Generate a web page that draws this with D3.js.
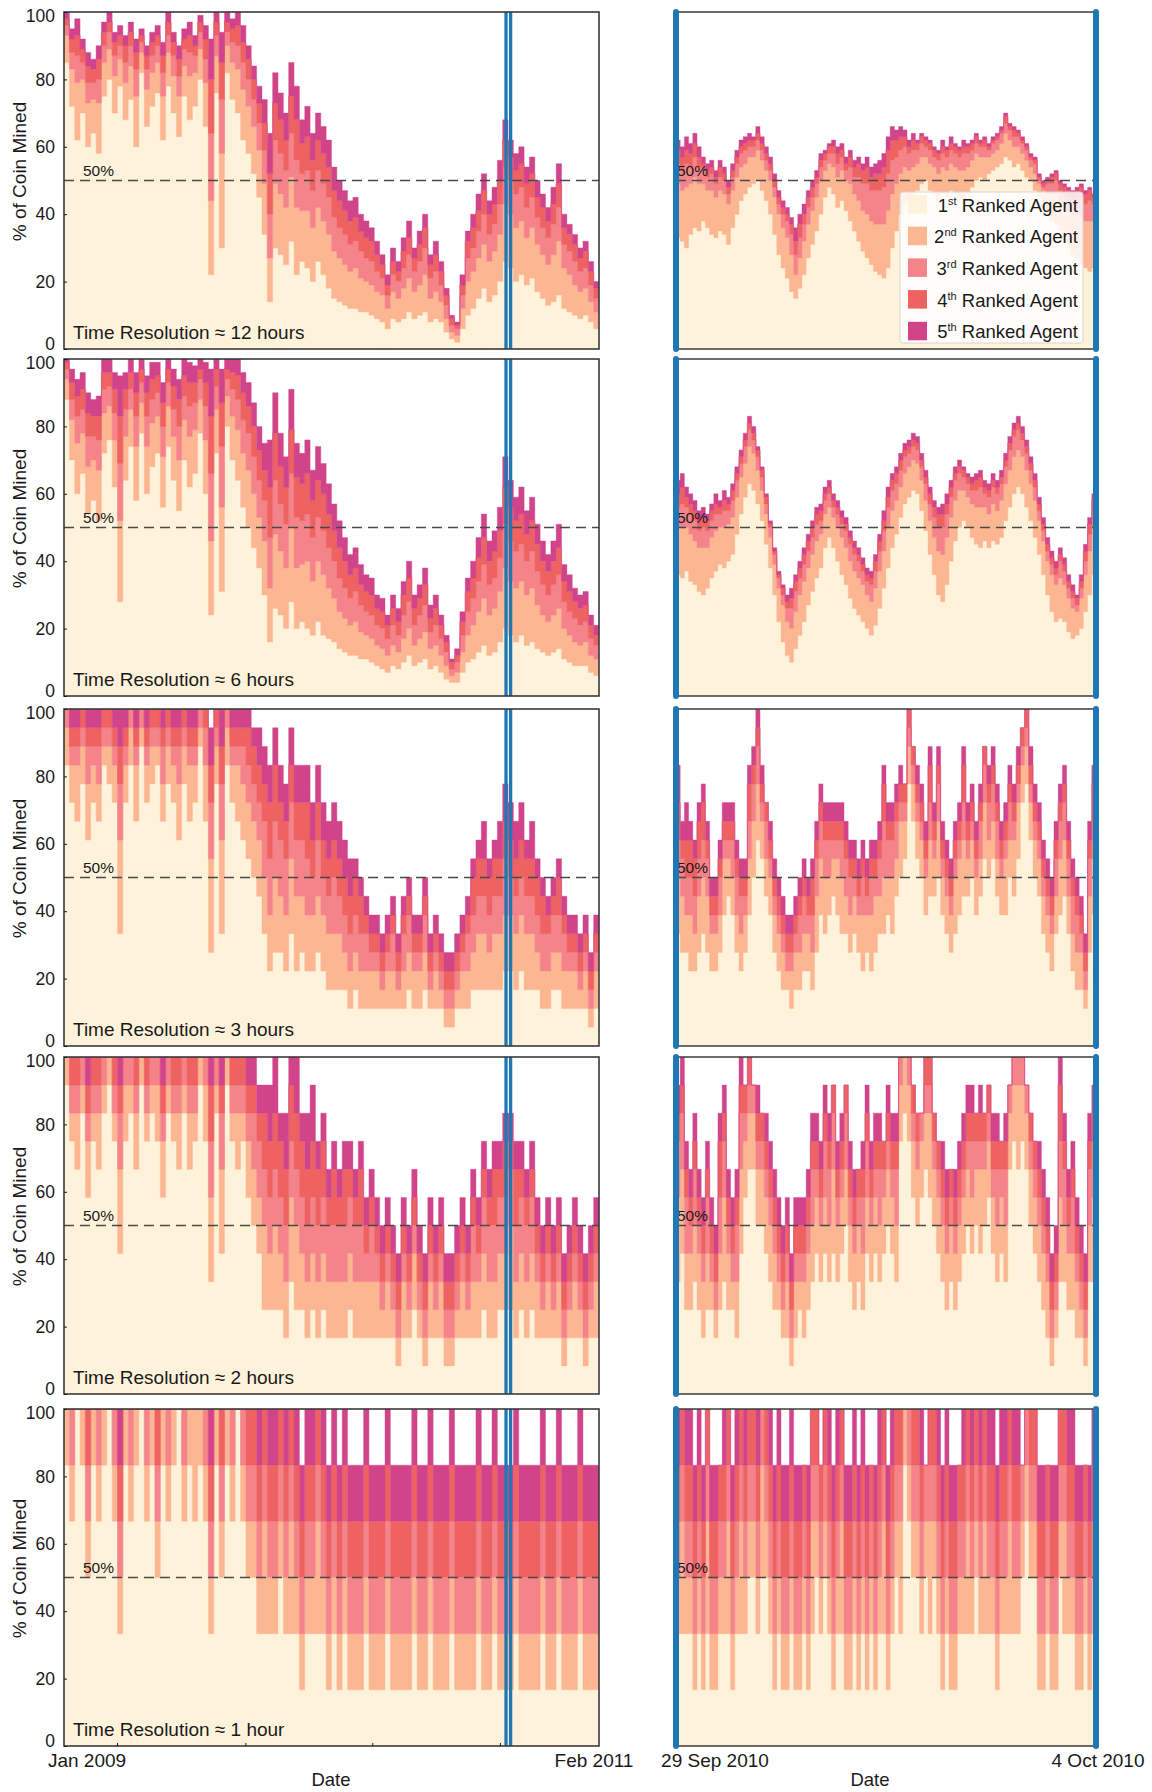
<!DOCTYPE html>
<html>
<head>
<meta charset="utf-8">
<title>Share of coin mined by the top five agents</title>
<script src="https://cdn.jsdelivr.net/npm/d3@7"></script>
<style>
  html, body { margin: 0; background: #fff; }
  text { font-family: "Liberation Sans", Arial, Helvetica, sans-serif; fill: #1a1a1a; }
</style>
</head>
<body>
<svg id="chart" width="1152" height="1792"></svg>
<script>
// ---------------------------------------------------------------------------
// Series: each entry is [1st, 2nd, 3rd, 4th, 5th ranked agent] for one
// sliding time window. The 12 h and 6 h rows are given in percent; the
// 3 h, 2 h and 1 h rows are given as block counts out of the window size.
// ---------------------------------------------------------------------------
const rankNumbers = ["1", "2", "3", "4", "5"];
const rankSuffixes = ["st", "nd", "rd", "th", "th"];
const rankColors = ["#FEF3DA", "#FCB792", "#F5838A", "#EE6262", "#D1448A"];
const resolutionLabels = ["12 hours", "6 hours", "3 hours", "2 hours", "1 hour"];
const windowSize = [100, 100, 18, 12, 6];
const yTicks = [0, 20, 40, 60, 80, 100];
const overviewDomain = ["2009-01-03", "2011-02-09"];
const detailDomain = ["2010-09-29", "2010-10-04"];
const overviewTicks = ["2009-03-20", "2009-09-20", "2010-03-21", "2010-09-20"];
const overviewEndLabels = ["Jan 2009", "Feb 2011"];
const detailEndLabels = ["29 Sep 2010", "4 Oct 2010"];

// Jan 2009 – Feb 2011, 12 hour windows (percent)
const overview12h = [
[85,8,3,2,2],[72,11,5,4,3],[62,17,8,6,5],[70,10,5,4,3],[60,13,6,5,4],[64,10,5,4,3],[58,15,7,6,4],[75,10,5,4,3],[80,9,5,3,3],[70,11,6,4,3],
[78,8,4,3,3],[68,11,6,5,3],[74,10,6,4,3],[60,15,8,5,4],[82,6,3,2,2],[66,11,6,4,3],[72,10,5,4,3],[76,9,5,3,3],[62,13,7,5,4],[78,10,5,4,3],
[70,11,6,4,3],[63,12,6,5,4],[75,9,5,3,3],[68,13,7,5,4],[72,10,5,3,3],[80,9,5,3,2],[66,13,7,6,4],[22,22,20,16,12],[76,11,6,4,3],[30,28,16,11,9],
[82,8,4,3,3],[74,11,6,4,3],[70,13,7,6,4],[62,15,8,6,5],[58,14,8,6,4],[52,14,8,6,4],[45,14,8,6,5],[34,15,10,8,7],[14,13,13,12,12],[30,19,13,11,9],
[28,18,12,10,8],[25,17,11,9,8],[32,19,13,11,10],[22,20,14,12,10],[26,15,11,9,7],[24,17,12,10,9],[20,16,11,9,8],[26,16,11,9,8],[22,16,11,9,8],[18,16,11,9,8],
[15,14,10,8,7],[14,13,9,8,6],[13,12,9,7,6],[12,11,8,7,6],[12,12,8,7,6],[11,10,8,6,5],[11,9,7,6,5],[10,9,7,6,4],[9,8,6,5,4],[8,8,5,4,3],
[6,6,4,3,3],[9,8,5,4,4],[8,7,5,3,3],[9,9,6,5,4],[11,10,7,5,5],[9,8,6,4,3],[10,9,7,5,4],[11,11,8,6,4],[8,7,6,4,3],[9,8,6,5,4],
[8,6,5,4,3],[5,4,4,3,2],[3,2,2,2,1],[2,2,2,1,1],[6,6,4,3,3],[10,10,7,5,3],[12,11,7,6,4],[15,12,8,6,5],[18,13,9,7,5],[14,12,8,6,4],
[16,13,8,6,5],[20,14,9,7,6],[26,17,11,8,6],[24,16,10,7,5],[20,16,10,7,5],[22,16,10,7,5],[19,14,9,7,5],[21,15,9,7,5],[17,14,8,6,5],[15,13,8,6,4],
[13,12,8,5,4],[14,14,9,6,5],[16,16,10,7,6],[12,12,7,5,4],[11,11,7,5,3],[10,9,7,5,3],[9,8,6,4,3],[10,8,6,5,3],[8,6,5,4,3],[6,5,4,3,2]
];

// Jan 2009 – Feb 2011, 6 hour windows (percent)
const overview6h = [
[88,6,3,2,1],[70,12,6,5,4],[60,15,8,6,5],[66,12,7,6,5],[54,14,9,7,6],[58,12,7,6,5],[52,15,9,7,6],[72,12,7,5,4],[76,10,6,4,4],[62,14,8,7,5],
[28,24,17,14,12],[64,13,8,6,5],[74,11,6,5,4],[58,16,9,7,6],[78,9,6,4,3],[60,14,9,7,5],[68,13,7,6,5],[72,11,7,5,4],[56,15,9,7,6],[74,12,7,4,3],
[64,13,8,7,5],[55,15,10,8,6],[70,12,7,6,5],[62,15,9,7,6],[66,13,8,6,5],[78,10,6,3,3],[60,16,10,7,6],[24,22,20,17,14],[72,13,7,5,3],[31,25,18,13,10],
[80,9,5,3,3],[70,13,8,5,4],[64,15,9,7,5],[56,16,10,8,6],[50,17,11,8,7],[44,16,11,9,7],[38,15,11,9,7],[30,16,12,9,8],[16,16,15,15,14],[26,22,16,14,12],
[24,19,14,11,10],[20,18,13,11,9],[28,22,16,13,12],[20,18,15,12,10],[22,17,13,11,9],[20,20,14,12,10],[18,16,13,11,9],[22,18,13,11,10],[18,18,13,11,9],[17,15,12,10,9],
[16,13,11,9,8],[14,11,10,9,8],[13,10,9,8,7],[12,9,8,7,6],[12,10,9,7,6],[11,8,8,6,6],[11,7,7,6,5],[10,7,7,6,5],[9,6,6,5,4],[8,6,6,5,4],
[7,5,5,4,3],[9,6,6,5,4],[8,5,5,4,4],[10,7,7,6,4],[12,8,8,7,5],[9,6,6,5,4],[10,7,7,5,4],[11,8,8,6,5],[8,6,5,4,4],[9,6,6,5,4],
[7,5,5,4,3],[5,4,4,3,2],[4,2,2,2,1],[4,3,3,2,2],[7,6,5,4,3],[10,8,7,6,4],[11,10,8,6,5],[13,12,9,7,6],[15,14,10,8,7],[12,12,9,7,6],
[13,13,9,8,6],[16,15,10,8,7],[20,18,13,11,9],[18,16,12,10,8],[16,16,11,9,7],[18,16,11,9,8],[15,15,10,8,7],[16,16,11,9,7],[14,13,10,8,6],[13,11,9,7,6],
[12,10,8,7,5],[13,11,9,7,6],[14,12,10,8,7],[11,9,8,6,5],[10,8,7,6,5],[9,7,7,5,4],[9,6,6,5,4],[9,7,6,5,4],[7,5,5,4,3],[6,5,4,3,3]
];

// Jan 2009 – Feb 2011, 3 hour windows (blocks out of 18)
const overview3h = [
[15,2,1,0,0],[13,2,1,1,1],[12,3,1,1,1],[14,2,1,1,0],[11,3,2,1,1],[13,2,1,1,1],[12,2,2,1,1],[15,1,1,1,0],[14,2,1,1,0],[13,2,1,1,1],
[6,5,3,2,2],[13,2,1,1,1],[15,2,1,0,0],[12,3,1,1,1],[16,1,1,0,0],[13,2,1,1,1],[14,2,1,1,0],[15,1,1,1,0],[12,2,2,1,1],[14,2,1,1,0],
[13,2,1,1,1],[11,3,2,1,1],[14,2,1,1,0],[12,3,1,1,1],[13,2,1,1,1],[16,1,1,0,0],[12,3,2,1,0],[5,5,3,2,2],[14,2,1,1,0],[6,5,3,2,2],
[15,2,1,0,0],[13,2,1,1,1],[12,3,1,1,1],[11,3,2,1,1],[10,3,2,2,1],[9,3,2,2,1],[8,3,2,2,2],[6,3,3,2,2],[4,3,3,3,2],[5,4,3,3,2],
[5,3,3,2,2],[4,3,3,2,2],[6,4,3,2,2],[4,4,3,2,2],[5,3,3,2,2],[4,3,3,3,2],[4,3,2,2,2],[5,3,3,2,2],[4,3,2,2,2],[3,3,2,2,2],
[3,3,3,2,2],[3,3,2,2,2],[3,2,2,2,2],[2,2,2,2,2],[3,2,2,2,1],[2,2,2,2,1],[2,2,2,1,1],[2,2,1,1,1],[2,2,1,1,1],[2,1,1,1,1],
[2,2,1,1,1],[2,2,2,1,1],[2,1,1,1,1],[2,2,2,1,1],[3,2,2,1,1],[2,2,1,1,1],[2,2,1,1,1],[3,2,2,1,1],[2,1,1,1,1],[2,2,1,1,1],
[2,1,1,1,1],[1,1,1,1,1],[1,1,1,1,1],[2,1,1,1,1],[2,2,1,1,1],[2,2,2,1,1],[3,2,2,2,1],[3,3,2,2,1],[3,3,2,2,2],[3,2,2,2,1],
[3,3,2,2,1],[3,3,2,2,2],[4,3,3,2,2],[4,3,2,2,2],[3,3,2,2,2],[4,3,2,2,2],[3,3,2,2,1],[3,3,2,2,2],[3,2,2,2,1],[2,2,2,2,1],
[2,2,2,1,1],[3,2,2,1,1],[3,2,2,2,1],[2,2,2,1,1],[2,2,1,1,1],[2,2,1,1,1],[2,1,1,1,1],[2,2,1,1,1],[1,1,1,1,1],[2,2,1,1,1]
];

// Jan 2009 – Feb 2011, 2 hour windows (blocks out of 12)
const overview2h = [
[11,1,0,0,0],[9,1,1,1,0],[8,2,1,1,0],[10,1,1,0,0],[7,2,1,1,1],[9,1,1,1,0],[8,2,1,1,0],[10,1,1,0,0],[11,1,0,0,0],[9,1,1,1,0],
[5,3,2,1,1],[9,2,1,0,0],[10,1,1,0,0],[8,2,1,1,0],[11,1,0,0,0],[9,1,1,1,0],[10,1,1,0,0],[9,2,1,0,0],[7,2,1,1,1],[10,1,1,0,0],
[9,1,1,1,0],[8,2,1,1,0],[10,1,1,0,0],[8,2,1,1,0],[9,1,1,1,0],[11,1,0,0,0],[9,2,1,0,0],[4,3,2,2,1],[10,1,1,0,0],[5,3,2,1,1],
[11,1,0,0,0],[9,1,1,1,0],[8,2,1,1,0],[9,1,1,1,0],[7,2,1,1,1],[6,2,2,1,1],[5,2,2,1,1],[3,3,2,2,1],[3,2,2,2,2],[3,3,2,2,2],
[3,2,2,2,1],[2,2,2,2,2],[4,3,2,2,1],[3,3,2,2,2],[3,2,2,2,1],[2,2,2,2,2],[3,2,2,2,2],[2,2,2,2,1],[3,2,2,2,1],[2,2,2,1,1],
[2,2,2,2,1],[2,2,2,1,1],[2,2,2,2,1],[3,2,2,1,1],[2,2,2,1,1],[2,2,2,2,1],[2,2,1,1,1],[2,2,2,1,1],[2,2,1,1,1],[2,1,1,1,1],
[2,2,1,1,1],[2,1,1,1,1],[1,1,1,1,1],[2,2,1,1,1],[2,1,1,1,1],[3,2,1,1,1],[2,1,1,1,1],[1,1,1,1,1],[2,2,1,1,1],[2,1,1,1,1],
[2,2,1,1,1],[1,1,1,1,1],[1,1,1,1,1],[2,1,1,1,1],[2,2,1,1,1],[2,1,1,1,1],[2,2,2,1,1],[2,2,1,1,1],[3,2,2,1,1],[2,2,2,1,1],
[2,2,2,2,1],[3,2,2,1,1],[3,2,2,2,1],[3,3,2,1,1],[2,2,2,2,1],[3,2,2,1,1],[2,2,2,1,1],[3,2,2,1,1],[2,2,1,1,1],[2,1,1,1,1],
[2,2,1,1,1],[2,1,1,1,1],[2,2,1,1,1],[1,1,1,1,1],[2,1,1,1,1],[2,2,1,1,1],[2,1,1,1,1],[1,1,1,1,1],[2,1,1,1,1],[2,2,1,1,1]
];

// Jan 2009 – Feb 2011, 1 hour windows (blocks out of 6)
const overview1h = [
[5,1,0,0,0],[4,1,1,0,0],[6,0,0,0,0],[5,1,0,0,0],[3,1,1,1,0],[5,1,0,0,0],[4,1,1,0,0],[5,1,0,0,0],[6,0,0,0,0],[4,1,1,0,0],
[2,1,1,1,1],[5,1,0,0,0],[4,1,1,0,0],[5,1,0,0,0],[6,0,0,0,0],[4,1,1,0,0],[5,1,0,0,0],[3,1,1,1,0],[5,1,0,0,0],[4,1,1,0,0],
[5,1,0,0,0],[6,0,0,0,0],[4,1,1,0,0],[5,1,0,0,0],[4,2,0,0,0],[5,1,0,0,0],[4,1,1,0,0],[2,1,1,1,1],[5,1,0,0,0],[3,1,1,1,0],
[5,1,0,0,0],[4,1,1,0,0],[6,0,0,0,0],[4,1,1,0,0],[3,1,1,1,0],[3,1,1,1,0],[2,1,1,1,1],[2,2,1,1,0],[2,1,1,1,1],[2,1,1,1,1],
[3,1,1,1,0],[2,1,1,1,1],[2,2,1,1,0],[2,1,1,1,1],[1,1,1,1,1],[2,1,1,1,1],[2,1,1,1,1],[2,2,1,1,0],[2,1,1,1,1],[1,1,1,1,1],
[2,1,1,1,1],[1,1,1,1,1],[2,1,1,1,1],[1,1,1,1,1],[1,1,1,1,1],[1,1,1,1,1],[2,1,1,1,1],[1,1,1,1,1],[1,1,1,1,1],[1,1,1,1,1],
[2,1,1,1,1],[1,1,1,1,1],[1,1,1,1,1],[1,1,1,1,1],[1,1,1,1,1],[2,1,1,1,1],[1,1,1,1,1],[1,1,1,1,1],[2,1,1,1,1],[1,1,1,1,1],
[1,1,1,1,1],[1,1,1,1,1],[2,1,1,1,1],[1,1,1,1,1],[1,1,1,1,1],[1,1,1,1,1],[1,1,1,1,1],[2,1,1,1,1],[1,1,1,1,1],[1,1,1,1,1],
[2,1,1,1,1],[1,1,1,1,1],[1,1,1,1,1],[1,1,1,1,1],[2,1,1,1,1],[1,1,1,1,1],[1,1,1,1,1],[1,1,1,1,1],[1,1,1,1,1],[2,1,1,1,1],
[1,1,1,1,1],[1,1,1,1,1],[2,1,1,1,1],[1,1,1,1,1],[1,1,1,1,1],[1,1,1,1,1],[2,1,1,1,1],[1,1,1,1,1],[1,1,1,1,1],[1,1,1,1,1]
];

// 29 Sep – 4 Oct 2010, 12 hour windows (percent)
const detail12h = [
[33,16,6,4,3],[32,15,6,4,3],[30,18,7,4,4],[34,15,5,4,3],[36,15,6,4,3],[35,14,5,3,3],[38,11,4,2,2],[36,11,4,2,2],[34,13,5,2,2],[33,12,4,2,2],
[35,12,4,3,2],[34,12,4,2,2],[31,12,3,2,2],[36,11,4,2,2],[40,11,4,2,2],[44,10,4,2,2],[46,9,4,2,2],[48,9,3,2,2],[49,8,3,2,1],[50,9,3,2,2],
[47,9,3,2,2],[44,9,3,2,2],[40,10,3,2,2],[34,11,3,2,2],[28,12,3,2,2],[24,12,4,2,2],[21,12,5,2,2],[17,11,6,3,2],[15,7,6,4,4],[18,9,6,4,3],
[22,10,5,3,3],[27,10,5,3,2],[31,10,4,3,2],[35,10,4,2,2],[40,10,4,2,2],[45,8,3,2,1],[48,7,3,2,1],[46,8,4,2,2],[42,9,4,3,2],[44,9,4,2,2],
[41,9,3,2,2],[38,11,5,3,2],[35,11,5,3,2],[32,12,7,4,2],[29,12,8,4,2],[27,13,9,5,3],[25,13,9,4,3],[23,14,10,5,3],[22,15,10,5,4],[21,16,11,6,4],
[24,17,11,7,4],[30,16,10,6,4],[35,14,8,5,3],[40,12,7,4,3],[43,11,6,3,2],[44,9,5,2,2],[45,9,5,3,2],[47,8,4,2,1],[49,8,4,2,1],[50,7,3,2,1],
[47,8,4,2,1],[46,8,3,2,1],[44,8,4,2,1],[46,8,4,2,2],[45,8,4,2,1],[47,8,4,2,2],[46,8,4,2,1],[45,8,4,2,1],[44,9,5,2,2],[46,8,4,2,1],
[48,8,3,2,1],[50,8,3,2,1],[51,6,3,1,1],[50,7,3,2,1],[52,5,2,1,1],[53,5,3,1,1],[54,5,3,1,1],[55,6,3,1,1],[57,7,3,2,1],[56,6,3,1,1],
[54,6,3,2,1],[55,5,3,1,1],[53,5,3,1,1],[51,5,3,1,1],[50,4,2,1,1],[47,5,3,1,1],[45,4,1,1,1],[42,5,1,1,1],[40,6,3,1,1],[38,8,3,2,1],
[37,9,4,2,1],[35,9,3,2,1],[33,10,3,2,1],[30,11,4,2,1],[28,12,4,2,1],[27,13,4,3,1],[25,14,6,3,1],[24,14,5,3,1],[23,15,6,3,1],[24,14,5,2,1]
];

// 29 Sep – 4 Oct 2010, 6 hour windows (percent)
const detail6h = [
[36,14,6,4,4],[35,15,7,5,4],[37,13,6,3,3],[34,14,6,3,3],[33,13,6,3,3],[31,13,5,3,3],[30,14,6,3,3],[32,12,5,3,2],[35,12,5,3,2],[37,12,5,3,3],
[39,11,4,2,2],[38,12,5,3,3],[40,11,4,2,2],[42,11,5,3,2],[48,11,5,2,2],[54,11,4,2,2],[59,10,5,2,2],[63,11,5,2,2],[61,11,4,2,2],[57,10,4,2,1],
[52,9,4,2,1],[45,9,3,2,1],[38,9,3,1,1],[30,9,3,1,1],[22,10,3,1,1],[16,11,3,2,1],[12,10,4,2,2],[10,10,6,3,3],[14,11,6,3,2],[18,12,5,3,2],
[22,12,5,3,2],[27,11,5,3,2],[31,11,5,3,2],[35,11,5,3,2],[38,10,4,3,2],[44,10,4,2,2],[47,9,4,2,2],[44,9,3,2,2],[40,10,4,2,2],[36,11,4,2,2],
[33,11,5,2,2],[29,11,5,2,2],[26,11,5,2,2],[24,11,5,2,2],[22,11,4,2,2],[20,10,4,2,2],[18,10,5,2,2],[21,11,5,3,2],[26,11,6,3,2],[32,11,6,3,3],
[38,12,6,3,3],[44,11,6,3,2],[48,10,5,3,2],[53,9,5,3,2],[57,9,5,2,2],[59,9,4,2,2],[61,9,4,2,2],[60,9,4,2,2],[55,9,4,2,2],[49,9,5,2,2],
[42,10,5,3,2],[36,11,6,3,2],[30,13,7,4,2],[28,14,8,4,3],[33,14,7,3,3],[40,13,6,3,2],[46,12,6,2,2],[50,11,5,2,2],[52,9,4,2,1],[50,9,4,2,1],
[47,10,4,2,2],[45,11,5,3,2],[44,12,6,3,2],[46,10,4,2,2],[44,10,5,2,2],[46,11,5,2,2],[45,10,5,2,2],[47,11,5,2,2],[52,11,5,2,2],[56,11,6,2,2],
[60,11,6,2,2],[62,11,6,2,2],[60,11,5,2,2],[56,11,5,2,2],[52,11,4,2,2],[47,11,4,2,2],[42,10,3,2,2],[36,10,3,2,2],[30,10,3,2,2],[25,11,3,2,2],
[22,11,3,2,2],[23,12,5,2,2],[22,11,4,2,2],[19,10,3,2,2],[17,9,3,2,2],[18,7,2,2,1],[20,9,3,2,2],[25,11,4,3,2],[30,13,5,3,2],[36,14,5,3,2]
];

// 29 Sep – 4 Oct 2010, 3 hour windows (blocks out of 18)
const detail3h = [
[6,3,2,2,2],[5,3,2,1,1],[5,2,2,2,2],[4,3,2,2,1],[4,2,2,2,1],[5,3,2,2,1],[6,3,2,2,1],[5,3,2,1,1],[4,2,1,1,1],[4,2,1,1,1],
[5,2,2,1,1],[7,3,1,1,1],[8,2,1,1,1],[7,2,2,1,1],[5,2,2,1,1],[4,2,2,1,1],[5,2,1,1,1],[7,3,2,2,1],[9,3,2,1,1],[11,3,2,1,1],
[10,2,1,1,1],[8,2,2,1,0],[7,2,1,1,1],[5,2,1,1,1],[4,2,1,1,1],[3,2,1,1,1],[3,1,1,1,1],[2,2,1,1,1],[3,2,1,1,1],[3,2,2,1,1],
[4,2,2,1,1],[4,2,1,1,1],[3,2,2,2,1],[5,3,2,1,1],[7,3,2,1,1],[6,3,2,1,1],[7,2,2,1,1],[8,2,1,1,1],[7,3,1,1,1],[6,3,2,1,1],
[6,2,2,1,1],[5,2,2,1,1],[6,2,1,1,1],[5,2,1,1,1],[4,3,2,1,1],[5,2,1,1,1],[4,3,2,1,1],[5,3,1,1,1],[6,2,2,1,1],[6,3,3,2,1],
[7,2,2,1,1],[6,3,2,1,1],[8,2,2,1,1],[9,3,1,1,1],[10,2,1,1,0],[14,2,1,1,0],[12,2,1,1,0],[10,2,1,1,1],[9,2,1,1,1],[7,2,1,1,1],
[8,3,2,2,1],[8,2,1,1,1],[9,3,2,1,1],[7,2,1,1,1],[6,2,1,1,1],[5,2,1,1,1],[6,3,1,1,1],[7,3,1,1,1],[8,3,2,2,1],[8,2,1,1,1],
[9,2,1,1,1],[7,2,1,1,1],[8,2,2,1,1],[10,3,2,1,0],[9,2,2,1,1],[10,2,2,1,1],[8,2,2,1,1],[7,2,1,1,1],[7,3,1,1,1],[9,2,2,1,1],
[8,3,1,1,1],[10,3,1,1,1],[13,2,1,1,0],[14,2,1,1,0],[11,2,1,1,1],[9,2,1,1,1],[8,2,1,1,1],[6,2,1,1,1],[5,2,1,1,1],[4,2,1,1,1],
[6,2,2,1,1],[7,3,2,1,1],[8,3,2,1,1],[6,2,2,1,1],[4,2,2,1,1],[3,2,2,1,1],[3,2,1,1,1],[2,1,1,1,1],[5,3,2,1,1],[7,3,2,2,1]
];

// 29 Sep – 4 Oct 2010, 2 hour windows (blocks out of 12)
const detail2h = [
[4,3,2,1,1],[5,3,2,1,1],[3,2,2,1,1],[3,2,1,1,1],[4,2,2,1,1],[3,2,1,1,1],[2,2,1,1,1],[3,2,2,1,1],[3,1,1,1,1],[2,1,1,1,1],
[3,2,2,2,1],[4,3,2,1,1],[3,2,1,1,1],[3,1,1,1,1],[2,2,2,1,1],[5,3,2,1,1],[7,2,1,1,0],[8,2,1,1,0],[8,2,1,0,0],[6,2,1,1,1],
[6,2,1,1,0],[5,2,1,1,1],[4,2,1,1,1],[3,2,1,1,1],[3,1,1,1,1],[2,1,1,1,1],[2,2,1,1,1],[1,1,1,1,1],[2,2,1,1,1],[3,1,1,1,1],
[2,2,1,1,1],[3,2,1,1,1],[4,2,2,1,1],[5,2,1,1,1],[4,2,1,1,1],[5,2,2,1,1],[4,2,2,1,1],[5,3,2,1,0],[4,2,1,1,1],[5,2,1,1,1],
[6,2,2,1,0],[4,2,1,1,1],[3,2,1,1,1],[4,2,1,1,0],[3,2,2,1,1],[5,2,2,1,1],[4,2,1,1,1],[5,2,1,1,1],[4,2,2,1,1],[5,2,1,1,0],
[6,2,1,1,1],[5,2,1,1,1],[4,2,2,1,1],[9,2,1,0,0],[10,2,0,0,0],[9,2,1,0,0],[7,2,1,1,0],[6,2,1,1,0],[7,2,1,0,0],[8,2,1,1,0],
[7,3,1,1,0],[6,2,1,1,0],[5,2,1,1,0],[4,2,1,1,1],[3,2,1,1,1],[4,2,1,1,0],[3,2,1,1,1],[4,2,1,1,1],[5,2,1,1,1],[6,2,1,1,1],
[5,2,2,1,1],[6,2,1,1,0],[5,3,1,1,1],[6,2,1,1,0],[7,2,1,1,0],[5,2,1,1,1],[4,2,2,1,1],[5,2,1,1,0],[4,2,2,1,1],[8,2,1,0,0],
[9,2,1,0,0],[8,3,1,0,0],[9,2,1,0,0],[8,2,1,0,0],[6,2,1,1,0],[5,2,1,1,0],[4,2,1,1,1],[3,2,1,1,1],[2,2,1,1,1],[1,1,1,1,1],
[2,1,1,1,1],[4,3,2,2,1],[4,2,2,1,1],[3,2,1,1,1],[3,2,2,1,1],[2,2,1,1,1],[2,1,1,1,1],[1,1,1,1,1],[4,2,2,1,1],[4,3,2,1,1]
];

// 29 Sep – 4 Oct 2010, 1 hour windows (blocks out of 6)
const detail1h = [
[2,1,1,1,1],[2,2,1,1,0],[2,1,1,1,1],[2,1,1,1,1],[1,1,1,1,1],[2,1,1,1,1],[1,1,1,1,1],[2,2,1,1,0],[1,1,1,1,1],[1,1,1,1,1],
[2,1,1,1,0],[2,1,1,1,1],[2,2,1,1,0],[1,1,1,1,1],[2,1,1,1,1],[2,2,1,1,0],[2,1,1,1,1],[3,1,1,1,0],[3,1,1,1,0],[2,1,1,1,1],
[3,2,1,0,0],[3,1,1,1,0],[2,1,1,1,1],[1,1,1,1,1],[2,1,1,1,1],[1,1,1,1,1],[1,1,1,1,1],[2,1,1,1,1],[1,1,1,1,1],[1,1,1,1,1],
[2,1,1,1,0],[1,1,1,1,1],[2,2,1,1,0],[3,1,1,1,0],[2,1,1,1,0],[3,1,1,1,0],[2,1,1,1,1],[1,1,1,1,1],[2,1,1,1,1],[2,2,1,1,0],
[1,1,1,1,1],[1,1,1,1,1],[2,1,1,1,1],[1,1,1,1,1],[2,1,1,1,1],[1,1,1,1,1],[2,1,1,1,0],[1,1,1,1,1],[2,1,1,1,1],[2,2,1,1,0],
[1,1,1,1,1],[2,1,1,1,1],[3,1,1,1,0],[2,2,1,1,0],[5,1,0,0,0],[4,1,1,0,0],[3,1,1,1,0],[3,1,1,1,0],[2,1,1,1,1],[3,1,1,0,0],
[2,2,1,1,0],[3,1,1,1,0],[2,1,1,1,1],[1,1,1,1,1],[2,1,1,1,1],[1,1,1,1,1],[1,1,1,1,1],[2,1,1,1,0],[2,1,1,1,1],[2,2,1,1,0],
[2,1,1,1,1],[3,1,1,1,0],[2,1,1,1,1],[2,2,1,1,0],[2,1,1,1,1],[2,1,1,1,1],[1,1,1,1,1],[2,1,1,1,1],[2,1,1,1,1],[2,2,1,1,0],
[2,1,1,1,1],[2,1,1,1,1],[3,1,1,0,0],[4,1,1,0,0],[3,1,1,1,0],[3,1,1,1,0],[1,1,1,1,1],[1,1,1,1,1],[2,1,1,1,0],[1,1,1,1,1],
[1,1,1,1,1],[3,1,1,1,0],[2,2,1,1,0],[2,1,1,1,1],[2,1,1,1,1],[1,1,1,1,1],[1,1,1,1,1],[2,1,1,1,0],[1,1,1,1,1],[2,1,1,1,1]
];

const overviewSeries = [overview12h, overview6h, overview3h, overview2h, overview1h];
const detailSeries = [detail12h, detail6h, detail3h, detail2h, detail1h];

// ---------------------------------------------------------------------------
// Layout
// ---------------------------------------------------------------------------
const FONT = '"Liberation Sans", Arial, Helvetica, sans-serif';
const rowTops = [12, 359, 709, 1057, 1409];
const rowHeight = 337;
const overviewRange = [64, 599];
const detailRange = [676, 1096];
const blue = "#1f77b4";
const rankKeys = ["r0", "r1", "r2", "r3", "r4"];

const parseDay = d3.timeParse("%Y-%m-%d");
const xOverview = d3.scaleTime().domain(overviewDomain.map(parseDay)).range(overviewRange);
const xDetail = d3.scaleTime().domain(detailDomain.map(parseDay)).range(detailRange);

const svg = d3.select("#chart");
const defs = svg.append("defs");

function stackRows(rows, size, x) {
  const [d0, d1] = x.domain();
  const n = rows.length;
  const step = (d1 - d0) / n;
  const records = rows.map((r, i) => {
    const rec = { date: new Date(+d0 + i * step) };
    rankKeys.forEach((k, j) => { rec[k] = r[j] / size * 100; });
    return rec;
  });
  // close the last step at the end of the time range
  records.push(Object.assign({}, records[n - 1], { date: d1 }));
  return d3.stack().keys(rankKeys)(records);
}

function drawLayers(g, series, x, y, clipId) {
  const [x0, x1] = x.range();
  const [yb, yt] = y.range();
  defs.append("clipPath").attr("id", clipId)
    .append("rect").attr("x", x0).attr("y", yt).attr("width", x1 - x0).attr("height", yb - yt);
  const area = d3.area()
    .curve(d3.curveStepAfter)
    .x(d => x(d.data.date))
    .y0(d => y(d[0]))
    .y1(d => y(d[1]));
  g.append("g").attr("clip-path", `url(#${clipId})`)
    .selectAll("path")
    .data(series)
    .join("path")
    .attr("fill", (d, i) => rankColors[i])
    .attr("stroke", (d, i) => rankColors[i])
    .attr("stroke-width", 0.4)
    .attr("d", area);
}

function drawFifty(g, x, y, labelX) {
  const [x0, x1] = x.range();
  g.append("line")
    .attr("x1", x0).attr("x2", x1)
    .attr("y1", y(50)).attr("y2", y(50))
    .attr("stroke", "#4a4a4a").attr("stroke-width", 1.4)
    .attr("stroke-dasharray", "10,6");
  g.append("text")
    .attr("x", labelX).attr("y", y(50) - 5)
    .attr("font-size", 15.5)
    .text("50%");
}

rowTops.forEach((top, row) => {
  const y = d3.scaleLinear().domain([0, 100]).range([top + rowHeight, top]);
  const bottom = top + rowHeight;

  // ---- overview panel (Jan 2009 – Feb 2011) ----
  const gL = svg.append("g");
  drawLayers(gL, stackRows(overviewSeries[row], windowSize[row], xOverview), xOverview, y, `clipL${row}`);
  drawFifty(gL, xOverview, y, overviewRange[0] + 19);

  // the detail window marked on the overview
  detailDomain.forEach((d, k) => {
    const xx = xOverview(parseDay(d)) + (k === 0 ? -0.2 : 0.9);
    gL.append("line")
      .attr("x1", xx).attr("x2", xx).attr("y1", top).attr("y2", bottom)
      .attr("stroke", blue).attr("stroke-width", 3.3);
  });

  gL.append("rect")
    .attr("x", overviewRange[0]).attr("y", top)
    .attr("width", overviewRange[1] - overviewRange[0]).attr("height", rowHeight)
    .attr("fill", "none").attr("stroke", "#3a3a3a").attr("stroke-width", 1.6);

  const yAxis = d3.axisLeft(y).tickValues(yTicks).tickSizeInner(-3).tickSizeOuter(0).tickPadding(9);
  gL.append("g")
    .attr("transform", `translate(${overviewRange[0]},0)`)
    .call(yAxis)
    .call(a => a.select(".domain").remove())
    .call(a => a.selectAll(".tick text")
      .attr("dy", v => v === 0 ? "0.04em" : v === 100 ? "0.52em" : "0.32em"))
    .attr("font-size", 17.5)
    .attr("font-family", FONT)
    .attr("color", "#1a1a1a");

  gL.append("text")
    .attr("transform", `translate(19,${(top + bottom) / 2 - 9}) rotate(-90)`)
    .attr("text-anchor", "middle")
    .attr("dy", "0.35em")
    .attr("font-size", 19)
    .attr("fill", "#333")
    .text("% of Coin Mined");

  gL.append("text")
    .attr("x", overviewRange[0] + 9).attr("y", bottom - 10)
    .attr("font-size", 19)
    .text(`Time Resolution \u2248 ${resolutionLabels[row]}`);

  // ---- detail panel (29 Sep – 4 Oct 2010) ----
  const gR = svg.append("g");
  drawLayers(gR, stackRows(detailSeries[row], windowSize[row], xDetail), xDetail, y, `clipR${row}`);
  drawFifty(gR, xDetail, y, detailRange[0] + 1);

  [top, bottom].forEach(yy => {
    gR.append("line")
      .attr("x1", detailRange[0]).attr("x2", detailRange[1])
      .attr("y1", yy).attr("y2", yy)
      .attr("stroke", "#3a3a3a").attr("stroke-width", 1.6);
  });
  detailRange.forEach(xx => {
    gR.append("line")
      .attr("x1", xx).attr("x2", xx).attr("y1", top).attr("y2", bottom)
      .attr("stroke", blue).attr("stroke-width", 6).attr("stroke-linecap", "round");
  });

  // ---- legend on the first detail panel ----
  if (row === 0) {
    const lg = gR.append("g");
    lg.append("rect")
      .attr("x", 900).attr("y", 192).attr("width", 183).attr("height", 151)
      .attr("rx", 3)
      .attr("fill", "#fff").attr("fill-opacity", 0.82)
      .attr("stroke", "#d6d6d6").attr("stroke-width", 1);
    rankNumbers.forEach((num, k) => {
      const yy = 195 + k * 31.7;
      lg.append("rect")
        .attr("x", 908).attr("y", yy).attr("width", 19).attr("height", 18.5)
        .attr("fill", rankColors[k]);
      const t = lg.append("text")
        .attr("x", 1078).attr("y", yy + 16.5)
        .attr("text-anchor", "end")
        .attr("font-size", 18.5);
      t.append("tspan").text(num);
      t.append("tspan").attr("font-size", 11).attr("dy", -7).text(rankSuffixes[k]);
      t.append("tspan").attr("dy", 7).text(" Ranked Agent");
    });
  }

  // ---- date axis under the last row ----
  if (row === rowTops.length - 1) {
    const xAxis = d3.axisBottom(xOverview)
      .tickValues(overviewTicks.map(parseDay))
      .tickSizeInner(-3).tickSizeOuter(0).tickFormat("");
    gL.append("g")
      .attr("transform", `translate(0,${bottom})`)
      .call(xAxis)
      .call(a => a.select(".domain").remove())
      .attr("color", "#1a1a1a");

    const labelY = bottom + 21;
    gL.append("text").attr("x", 87).attr("y", labelY).attr("text-anchor", "middle")
      .attr("font-size", 19).text(overviewEndLabels[0]);
    gL.append("text").attr("x", 594).attr("y", labelY).attr("text-anchor", "middle")
      .attr("font-size", 19).text(overviewEndLabels[1]);
    gL.append("text").attr("x", 331).attr("y", bottom + 40).attr("text-anchor", "middle")
      .attr("font-size", 18.5).attr("fill", "#333").text("Date");

    gR.append("text").attr("x", 715).attr("y", labelY).attr("text-anchor", "middle")
      .attr("font-size", 19).text(detailEndLabels[0]);
    gR.append("text").attr("x", 1098).attr("y", labelY).attr("text-anchor", "middle")
      .attr("font-size", 19).text(detailEndLabels[1]);
    gR.append("text").attr("x", 870).attr("y", bottom + 40).attr("text-anchor", "middle")
      .attr("font-size", 18.5).attr("fill", "#333").text("Date");
  }
});
</script>
</body>
</html>
